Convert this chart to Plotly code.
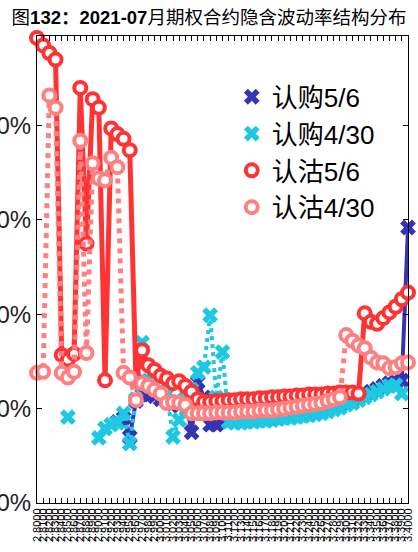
import plotly.graph_objects as go

strikes = ["2.8000","2.8100","2.8200","2.8300","2.8400","2.8500","2.8600","2.8700","2.8800","2.8900",
           "2.9000","2.9100","2.9200","2.9300","2.9400","2.9500","2.9600","2.9700","2.9800","2.9900",
           "3.0000","3.0100","3.0200","3.0300","3.0400","3.0500","3.0600","3.0700","3.0800","3.0900",
           "3.1000","3.1100","3.1200","3.1300","3.1400","3.1500","3.1600","3.1700","3.1800","3.1900",
           "3.2000","3.2100","3.2200","3.2300","3.2400","3.2500","3.2600","3.2700","3.2800","3.2900",
           "3.3000","3.3100","3.3200","3.3300","3.3400","3.3500","3.3600","3.3700","3.3800","3.3900",
           "3.4000"]

call_0506 = [None, None, None, None, None, None, None, None, None, None,
             None, None, None, 8.6, 9.0, 7.0, 10.8, 11.5, 11.5, 11.3,
             11.0, 10.8, 10.5, 10.3, 11.0, 7.5, 12.8, 11.2, 8.3, 8.3,
             8.8, 8.9, 8.8, 8.8, 8.9, 8.9, 9.0, 9.0, 9.1, 9.2,
             9.3, 9.3, 9.4, 9.5, 9.6, 9.7, 9.8, 10.0, 10.2, 10.4,
             10.7, 10.9, 11.2, 11.5, 11.8, 12.1, 12.4, 12.7, 12.8, 13.0,
             29.2]

call_0430 = [None, None, None, None, None, 9.1, None, None, None, None,
             6.9, 7.9, 8.3, 8.5, 9.5, 6.3, 11.0, 17.0, 13.0, 12.5,
             12.0, 11.5, 7.0, 8.8, 11.0, 12.0, 13.8, 14.4, 19.9, 11.2,
             16.0, 8.6, 8.5, 8.5, 8.6, 8.6, 8.7, 8.7, 8.8, 8.9,
             9.0, 9.0, 9.1, 9.2, 9.3, 9.4, 9.5, 9.7, 9.9, 10.1,
             10.4, 10.6, 10.9, 11.2, 11.5, 11.8, 12.1, 12.4, 12.5, 11.6,
             None]

put_0506 = [49.3, 48.5, 47.7, 47.0, 15.7, 15.2, 15.8, 44.0, 27.5, 42.8,
            41.9, 13.0, 39.7, 39.1, 38.6, 37.4, 13.0, 16.2, 14.6, 14.1,
            13.5, 13.2, 12.7, 12.9, 12.4, 11.8, 11.0, 10.7, 10.7, 10.8,
            10.8, 10.9, 10.9, 11.0, 11.0, 11.0, 11.1, 11.1, 11.2, 11.2,
            11.3, 11.3, 11.4, 11.4, 11.5, 11.5, 11.5, 11.6, 11.6, 11.7,
            11.7, 11.7, 11.6, 20.1, 19.2, 19.0, 19.6, 20.2, 20.8, 21.6,
            22.3]

put_0430 = [13.8, 13.9, 43.2, 41.9, 13.8, 13.3, 13.9, 38.4, 15.9, 36.0,
            34.4, 34.2, 36.6, 35.6, 13.8, 13.3, 10.9, 12.7, 12.4, 12.0,
            11.6, 10.6, 10.7, 10.6, 10.4, 9.5, 9.5, 9.5, 9.5, 9.6,
            9.6, 9.6, 9.6, 9.7, 9.7, 9.7, 9.8, 9.8, 9.8, 9.9,
            10.0, 10.1, 10.2, 10.3, 10.4, 10.5, 10.6, 10.8, 11.0, 11.2,
            17.8, 17.2, 16.7, 16.4, 15.4, 14.9, 14.8, 14.3, 14.4, 14.8,
            14.9]

y_ticks = [0, 10, 20, 30, 40]
y_tick_text = ["0%", "10%", "20%", "30%", "40%"]

FONT = "Arial, 'Liberation Sans', 'Noto Sans CJK SC', sans-serif"

fig = go.Figure()

def add(name, vals, color, dash, width, symbol, msize, mline=0, mfill=None):
    marker = dict(symbol=symbol, size=msize,
                  color=mfill if mfill else color,
                  line=dict(color=color, width=mline))
    fig.add_trace(go.Scatter(
        x=strikes, y=vals, name=name, mode="lines+markers",
        line=dict(color=color, width=width, dash=dash),
        marker=marker, cliponaxis=False, connectgaps=False,
        showlegend=False, legendgroup=name,
    ))
    # legend entry: marker only, like the reference
    fig.add_trace(go.Scatter(
        x=[None], y=[None], name=name, mode="markers",
        marker=marker, showlegend=True, legendgroup=name,
    ))

add("认购5/6", call_0506, "#3434B4", "solid", 4, "x", 14)
add("认购4/30", call_0430, "#1EC8E2", "dot", 4, "x", 14)
add("认沽5/6", put_0506, "#FF3333", "solid", 5, "circle", 12, 4, "white")
add("认沽4/30", put_0430, "#FF8080", "dot", 5, "circle", 12, 4, "white")

fig.update_layout(
    width=418, height=552,
    margin=dict(l=37, r=10, t=36, b=49, pad=0),
    paper_bgcolor="white", plot_bgcolor="white",
    font=dict(family=FONT, color="black"),
    title=dict(text="图<b>132：2021-07</b>月期权合约隐含波动率结构分布",
               x=0.5, xref="container", xanchor="center",
               y=1 - 18 / 552, yref="container", yanchor="middle",
               font=dict(size=18.5, color="black", family=FONT)),
    showlegend=True,
    legend=dict(x=0.525, y=0.92, xanchor="left", yanchor="top",
                bgcolor="rgba(0,0,0,0)", borderwidth=0,
                font=dict(size=26, family=FONT, color="black"),
                itemwidth=30, tracegroupgap=0),
)

fig.update_xaxes(
    type="category", range=[0, len(strikes) - 1],
    tickmode="array", tickvals=strikes, ticktext=strikes,
    tickangle=-90, tickfont=dict(size=11, color="black", family=FONT),
    ticks="inside", ticklen=5, tickcolor="black", tickwidth=1,
    showline=True, linecolor="black", linewidth=1, mirror="ticks",
    showgrid=False, zeroline=False, automargin=False,
)
fig.update_yaxes(
    range=[0, 49.5], tickmode="array", tickvals=y_ticks, ticktext=y_tick_text,
    tickfont=dict(size=24, color="#222222", family=FONT),
    ticks="inside", ticklen=5, tickcolor="black", tickwidth=1,
    showline=True, linecolor="black", linewidth=1, mirror="ticks",
    showgrid=False, zeroline=False, automargin=False, ticklabelstandoff=0,
)

fig.write_html("out.html",
               config={"displayModeBar": False},
               post_script="document.body.style.margin='0';document.body.style.padding='0';")
